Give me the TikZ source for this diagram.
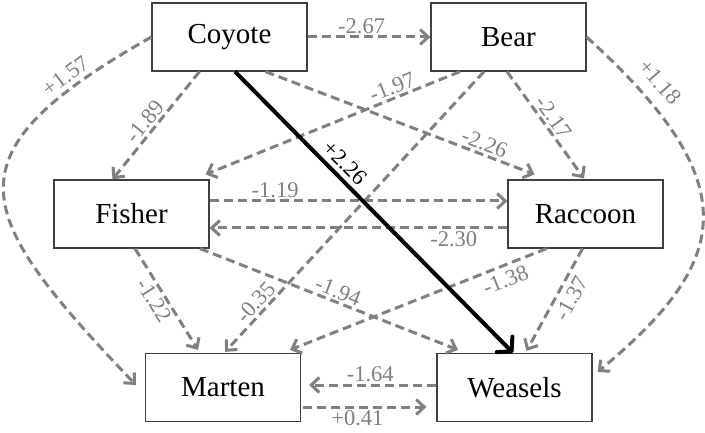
\documentclass[tikz,border=0pt]{standalone}
\usepackage{fontspec}
\setmainfont{Liberation Serif}
\usetikzlibrary{arrows.meta}
\definecolor{cEdge}{RGB}{128,128,128}
\definecolor{cBox}{RGB}{64,64,64}
\tikzset{
	species/.style={rectangle, draw=cBox, line width=1.2pt, minimum width=155pt, minimum height=68pt, inner sep=0pt, font=\fontsize{29}{32}\selectfont},
	negeff/.style ={draw=cEdge, line width=3pt, dash pattern=on 9pt off 5pt, -{Straight Barb[length=8pt,width=15pt]}},
	poseff/.style ={draw=black, line width=4pt, -{Straight Barb[length=10pt,width=22pt,round]}},
	coef/.style   ={text=cEdge, font=\fontsize{22.5}{24}\selectfont, inner sep=2pt, sloped},
}
\begin{document}
\begin{tikzpicture}[x=1pt, y=-1pt]
	\useasboundingbox (0,0) rectangle (705,433);
	\node[species] (coy) at (229.5,37)  {Coyote};
	\node[species] (bear) at (508.5,37) {Bear};
	\node[species] (fis) at (131.5,214) {Fisher};
	\node[species] (rac) at (585.5,214) {Raccoon};
	\node[species] (mar) at (223,387.5) {Marten};
	\node[species] (wea) at (514.5,387.5) {Weasels};
	% interactions from the top predators
	\draw[negeff] (coy.east) -- node[coef, above, pos=0.44] (l1) {-2.67} (bear.west);
	\draw[negeff] ([xshift=-30]coy.south) -- node[coef, above, pos=0.53] (l2) {-1.89} ([xshift=-19]fis.north);
	\draw[negeff] ([xshift=36]coy.south) -- node[coef, above, pos=0.8] (l3) {-2.26} ([xshift=-51,yshift=5]rac.north);
	\draw[negeff] (coy.west) .. controls (-57,155) and (-29,212) .. node[coef, above=2pt, pos=0.15] (l4) {+1.57} ([xshift=-9,yshift=2.5]mar.west);
	\draw[negeff] ([xshift=-48.5]bear.south) -- node[coef, above, pos=0.25] (l5) {-1.97} ([xshift=-4,yshift=5]fis.north east);
	\draw[negeff] ([xshift=-1.5]bear.south) -- node[coef, above, pos=0.49] (l6) {-2.17} ([xshift=-1.5,yshift=1]rac.north);
	\draw[negeff] ([xshift=-24.5]bear.south) -- node[coef, above, pos=0.85] (l7) {-0.35} ([xshift=2,yshift=1]mar.north);
	\draw[negeff] (bear.east) .. controls (750,185) and (730,262) .. node[coef, above=9pt, pos=0.14] (l8) {+1.18} ([xshift=5,yshift=15.5]wea.east);
	% mesopredators
	\draw[negeff] ([yshift=13]fis.east) -- node[coef, above, pos=0.22] (l9) {-1.19} ([yshift=13]rac.west);
	\draw[negeff] ([yshift=-14]rac.west) -- node[coef, below, pos=0.18] (l10) {-2.30} ([yshift=-14]fis.east);
	\draw[negeff] ([xshift=3.5]fis.south) -- node[coef, below, pos=0.45] (l11) {-1.22} ([xshift=-25,yshift=3]mar.north);
	\draw[negeff] ([xshift=68.5]fis.south) -- node[coef, above, pos=0.52] (l12) {-1.94} ([xshift=-56.5,yshift=3]wea.north);
	\draw[negeff] ([xshift=-39]rac.south) -- node[coef, below=3pt, pos=0.18] (l13) {-1.38} ([xshift=67,yshift=3]mar.north);
	\draw[negeff] ([xshift=-3]rac.south) -- node[coef, below=3pt, pos=0.42] (l14) {-1.37} ([xshift=12,yshift=2]wea.north);
	\draw[negeff] ([yshift=2.5]wea.west) -- node[coef, above, pos=0.52] (l15) {-1.64} ([xshift=8,yshift=2.5]mar.east);
	\draw[negeff] ([xshift=2,yshift=-19.5]mar.east) -- node[coef, below, pos=0.44] (l16) {+0.41} ([xshift=-10,yshift=-19.5]wea.west);
	\draw[poseff] ([xshift=5.5]coy.south) -- node[coef, above=3pt, pos=0.36, text=black] (l17) {+2.26} ([xshift=-1.5]wea.north);
\end{tikzpicture}
\end{document}
